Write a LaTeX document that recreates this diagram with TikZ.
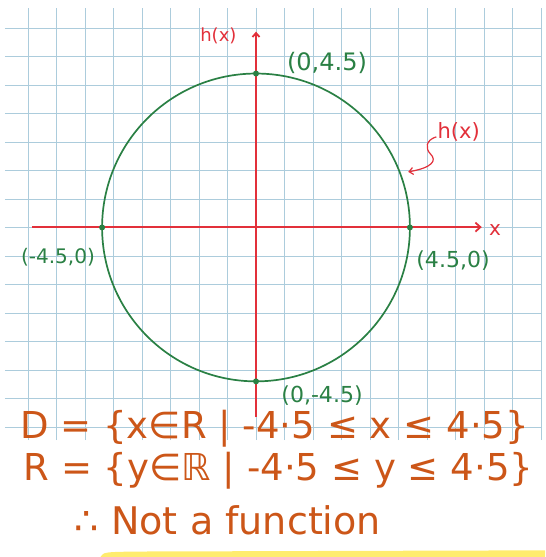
\documentclass[tikz,border=0pt]{standalone}
\usepackage{fontspec}
\setmainfont{DejaVu Sans}
\usepackage{tikz}
\usetikzlibrary{arrows.meta,calc}
\usepackage{xcolor}
\definecolor{gridblue}{RGB}{172,204,220}
\definecolor{axisred}{RGB}{226,48,58}
\definecolor{curvegreen}{RGB}{42,128,68}
\definecolor{inkorange}{RGB}{204,86,24}
\definecolor{markeryellow}{RGB}{255,236,110}

\tikzset{
    axisline/.style={draw=axisred, line width=1.8pt},
    dot/.style={circle, fill=curvegreen, inner sep=0pt, minimum size=6pt},
    greenlabel/.style={text=curvegreen, inner sep=1pt},
    redlabel/.style={text=axisred, inner sep=1pt},
    inkline/.style={text=inkorange, anchor=west, inner sep=0pt}
}

\begin{document}
\begin{tikzpicture}[x=0.6cm,y=0.6cm]
    \useasboundingbox (-14.97,-19.27) rectangle (16.90,13.30);

    % Squared paper
    \draw[gridblue, line width=0.6pt] (-14.68,-12.43) grid (16.67,12.84);

    % Highlighter stroke
    \fill[markeryellow] (-9.1,-19.27) .. controls (-8.9,-18.98) .. (-7,-18.95) -- (16.9,-18.88) -- (16.9,-19.27) -- cycle;

    % Circle
    \draw[curvegreen, line width=1.7pt] (0,0) circle (9);

    % Axes
    \coordinate (xstart) at (-13.1,0.02);
    \coordinate (xend) at (13.2,0.02);
    \coordinate (ystart) at (0,-11.1);
    \coordinate (yend) at (0,11.45);
    \draw[axisline, -{Straight Barb[length=5pt,width=9pt]}] (xstart) -- (xend);
    \draw[axisline, -{Straight Barb[length=4pt,width=7pt]}] (ystart) -- (yend);
    \node[redlabel, font=\fontsize{20}{20}\selectfont] (xlabel) at (13.98,-0.15) {x};
    \node[redlabel, font=\fontsize{18}{18}\selectfont] (hxtop) at (-2.2,11.2) {h(x)};

    % Intercepts
    \node[dot] (ptop) at (0,9) {};
    \node[dot] (pbottom) at (0,-9) {};
    \node[dot] (pright) at (9,0) {};
    \node[dot] (pleft) at (-9,0) {};
    \node[greenlabel, font=\fontsize{24}{24}\selectfont] (ltop) at (4.15,9.6) {(0,4.5)};
    \node[greenlabel, font=\fontsize{22}{22}\selectfont] (lbottom) at (3.86,-9.85) {(0,-4.5)};
    \node[greenlabel, font=\fontsize{22}{22}\selectfont] (lright) at (11.52,-1.96) {(4.5,0)};
    \node[greenlabel, font=\fontsize{20}{20}\selectfont] (lleft) at (-11.58,-1.75) {(-4.5,0)};

    % Curve label
    \node[redlabel, font=\fontsize{21}{21}\selectfont] (hxright) at (11.85,5.6) {h(x)};
    \coordinate (hxtip) at (8.9,3.25);
    \draw[axisred, line width=1.2pt, -{Straight Barb[length=4pt,width=7pt]}] ($(hxright.west)+(0,-0.3)$) .. controls (9.9,5.1) and (9.9,4.6) .. (10.2,4.3) .. controls (10.6,3.9) and (10.3,3.5) .. (hxtip);

    % Domain and range
    \node[inkline, font=\fontsize{37}{37}\selectfont] (domain) at (-13.8,-11.75) {D = \{x∈R | -4·5 ≤ x ≤ 4·5\}};
    \node[inkline, font=\fontsize{37}{37}\selectfont] (range) at (-13.6,-14.2) {R = \{y∈ℝ | -4·5 ≤ y ≤ 4·5\}};
    \node[inkline, font=\fontsize{38}{38}\selectfont] (verdict) at (-10.6,-17.1) {∴ Not a function};
\end{tikzpicture}
\end{document}
